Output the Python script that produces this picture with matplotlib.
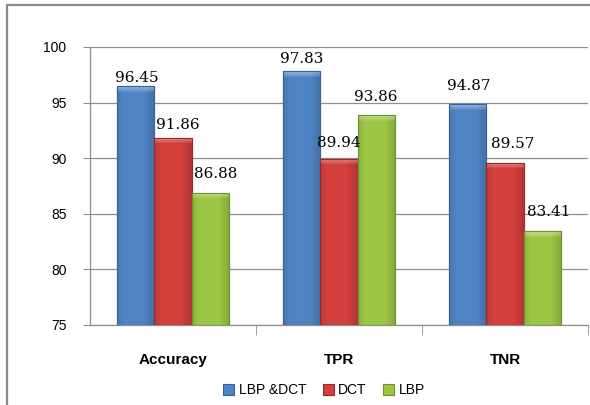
import matplotlib
matplotlib.use('Agg')
import matplotlib.pyplot as plt
from matplotlib.patches import Rectangle
from matplotlib.colors import to_rgb
import numpy as np

categories = ['Accuracy', 'TPR', 'TNR']
series_names = ['LBP &DCT', 'DCT', 'LBP']
lbp_dct = [96.45, 97.83, 94.87]
dct = [91.86, 89.94, 89.57]
lbp = [86.88, 93.86, 83.41]
y_ticks = [75, 80, 85, 90, 95, 100]

colors = ['#4F84C4', '#D23F3D', '#9CC744']
edges = ['#37629A', '#962B29', '#6E9130']

# label nudges in pixels (dx, gap above bar top), one row per series
label_dx = [[1.5, 0, 1], [5, 0, 7.5], [5, -1, 6]]
label_gap = [[4, 8, 14], [9, 12, 15], [15, 14, 15]]

PX_PER_UNIT = 278 / 25


def shade_bar(ax, patch, color):
    # bevel-ish look: darker at the sides, light strip at the top
    base = np.array(to_rgb(color))
    ny = max(int(round(patch.get_height() * PX_PER_UNIT)), 8)
    nx = 38
    xs = np.linspace(0, 1, nx)
    side = 1 - 0.25 * np.clip(np.abs(xs - 0.45) * 2.2 - 0.6, 0, 1)
    img = np.ones((ny, nx, 3)) * base
    img *= side[None, :, None]
    top = np.zeros(ny)
    top[:6] = np.linspace(0.4, 0.1, 6)
    img = img + (1 - img) * top[:, None, None]
    x0, y0 = patch.get_x(), patch.get_y()
    x1, y1 = x0 + patch.get_width(), y0 + patch.get_height()
    im = ax.imshow(np.clip(img, 0, 1), extent=(x0, x1, y0, y1), origin='upper',
                   aspect='auto', zorder=3, interpolation='nearest')
    im.set_clip_path(patch)


def main():
    fig = plt.figure(figsize=(5.9, 4.05), dpi=100)
    fig.patches.append(Rectangle((7 / 590, -0.1), 1.2, 1 - 5 / 405 + 0.1,
                                 transform=fig.transFigure, fill=False,
                                 edgecolor='#8C8C8C', linewidth=1.6))
    ax = fig.add_axes([90 / 590, 1 - 325 / 405, 498 / 590, 278 / 405])

    x = np.arange(len(categories))
    w = 0.226
    series = [lbp_dct, dct, lbp]
    for i, vals in enumerate(series):
        xs = x + (i - 1) * w
        bars = ax.bar(xs, np.array(vals) - 75, width=w, bottom=75, color=colors[i],
                      edgecolor=edges[i], linewidth=0.8, label=series_names[i], zorder=3)
        for b in bars:
            shade_bar(ax, b, colors[i])
            ax.add_patch(Rectangle((b.get_x(), b.get_y()), b.get_width(), b.get_height(),
                                   fill=False, edgecolor=edges[i], linewidth=0.8, zorder=4))
        for j, v in enumerate(vals):
            ax.annotate(f'{v:.2f}', xy=(xs[j], v),
                        xytext=(label_dx[i][j], label_gap[i][j]),
                        textcoords='offset pixels', ha='center', va='baseline',
                        family='DejaVu Serif', fontsize=11, color='black', zorder=5)

    ax.set_ylim(75, 100)
    ax.set_xlim(-0.5, 2.5)
    ax.set_yticks(y_ticks)
    ax.yaxis.grid(True, color='#8F8F8F', linewidth=0.9)
    ax.set_axisbelow(True)
    for s in ['top', 'right']:
        ax.spines[s].set_visible(False)
    for s in ['left', 'bottom']:
        ax.spines[s].set_color('#8F8F8F')
        ax.spines[s].set_linewidth(0.9)
    ax.tick_params(axis='y', length=5, color='#8F8F8F', pad=12)
    for t in ax.get_yticklabels():
        t.set_family('Liberation Sans')
        t.set_fontsize(10)

    ax.set_xticks(x)
    ax.set_xticklabels(categories, fontweight='bold', fontsize=11, family='Liberation Sans')
    ax.tick_params(axis='x', which='major', length=0, pad=20)
    ax.set_xticks([0.5, 1.5, 2.5], minor=True)
    ax.tick_params(axis='x', which='minor', length=7, color='#8F8F8F')

    ax.legend(loc='center', bbox_to_anchor=(0.47, -0.235), ncol=3, frameon=False,
              handlelength=0.8, handleheight=0.8, handletextpad=0.3, columnspacing=1.2,
              prop={'family': 'Liberation Sans', 'size': 10})

    fig.savefig('out.png', dpi=100)


if __name__ == '__main__':
    main()
